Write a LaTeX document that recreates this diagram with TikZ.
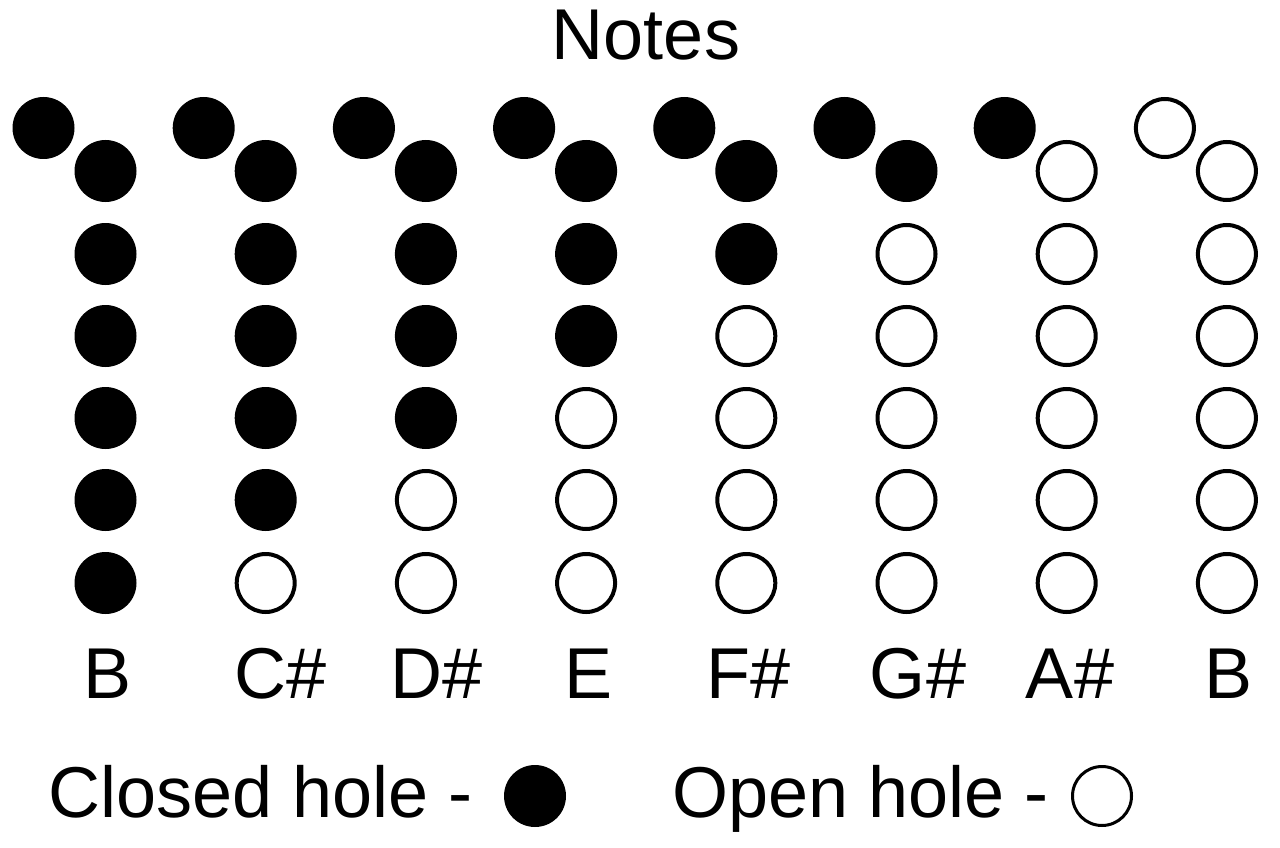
\documentclass[tikz,border=0pt]{standalone}
\usepackage{fontspec}
\setmainfont{Liberation Sans}
\begin{document}
\begin{tikzpicture}[x=1pt,y=-1pt,
  closedhole/.style={circle,inner sep=0pt,minimum size=62pt,fill=black},
  openhole/.style={circle,inner sep=0pt,minimum size=58pt,draw=black,line width=4pt,fill=white},
  lbl/.style={inner sep=0pt,anchor=base,font=\fontsize{72}{80}\selectfont},
  legtxt/.style={inner sep=0pt,anchor=base west,font=\fontsize{72}{80}\selectfont}]
\useasboundingbox (0,0) rectangle (1280,848);
\node[lbl] (title) at (646,60) {Notes};
% columns: 7 holes each; column i has 7-i closed holes from the top
\foreach \i in {0,...,7}{
  \pgfmathsetmacro{\cx}{105.5+160.2*\i}
  \pgfmathsetmacro{\lx}{\cx-62}
  \pgfmathtruncatemacro{\nclosed}{7-\i}
  % hole 1: top-left
  \ifnum\nclosed>0
    \node[closedhole] (h\i-1) at (\lx,128) {};
  \else
    \node[openhole] (h\i-1) at (\lx,128) {};
  \fi
  \foreach \k/\yy in {2/171,3/254,4/336,5/418,6/500,7/583}{
    \ifnum\k>\nclosed
      \node[openhole] (h\i-\k) at (\cx,\yy) {};
    \else
      \node[closedhole] (h\i-\k) at (\cx,\yy) {};
    \fi
  }
}
\node[lbl] (n0) at (108,698) {B};
\node[lbl] (n1) at (281,698) {C\#};
\node[lbl] (n2) at (437,698) {D\#};
\node[lbl] (n3) at (589,698) {E};
\node[lbl] (n4) at (749,698) {F\#};
\node[lbl] (n5) at (918,698) {G\#};
\node[lbl] (n6) at (1070,698) {A\#};
\node[lbl] (n7) at (1228,698) {B};
% legend
\node[legtxt] (closedtxt) at (48,817) {Closed hole -};
\node[closedhole] (closedsym) at (535,796) {};
\node[legtxt] (opentxt) at (672,817) {Open hole -};
\node[circle,inner sep=0pt,minimum size=59pt,draw=black,line width=3pt] (opensym) at (1102,796) {};
\end{tikzpicture}
\end{document}
